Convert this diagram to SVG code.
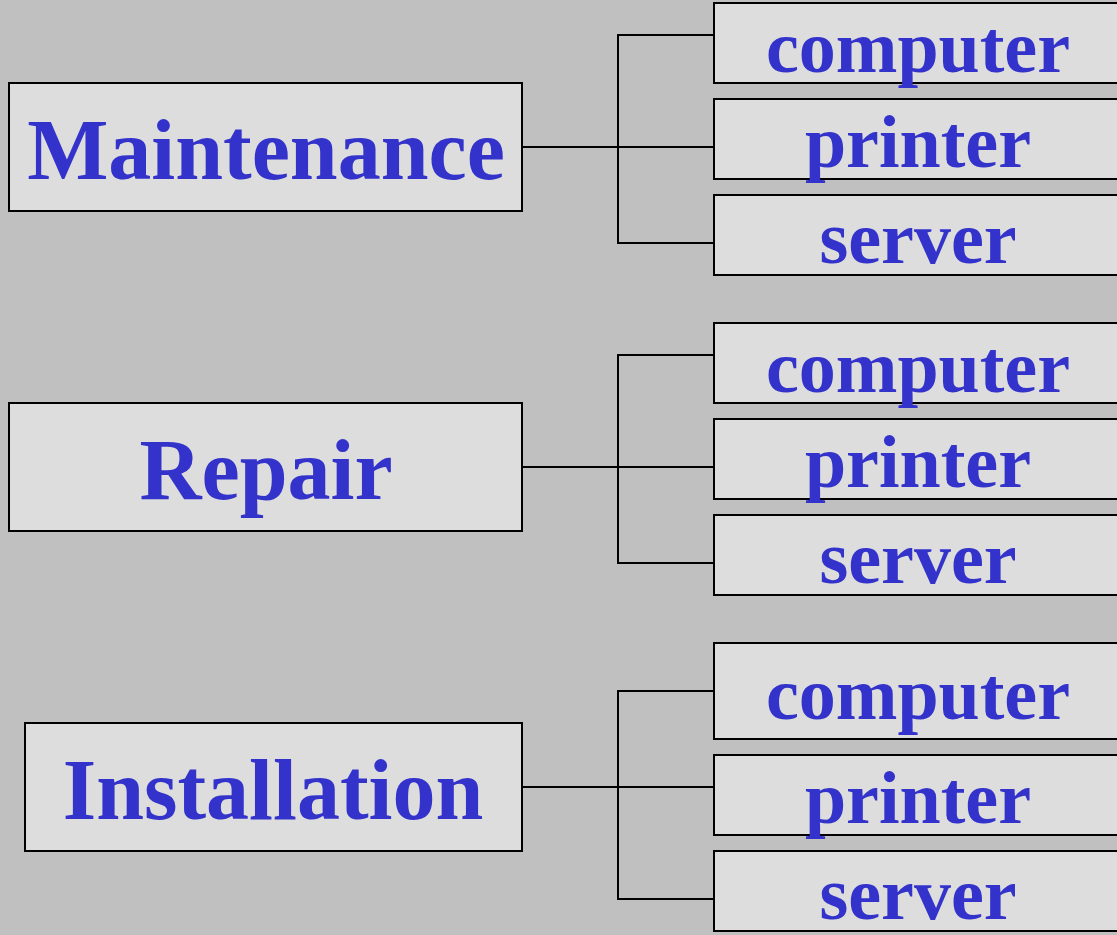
<svg xmlns="http://www.w3.org/2000/svg" width="1117" height="935" viewBox="0 0 1117 935">
<style>
.box{fill:#DDDDDD;stroke:#000;stroke-width:2}
.big{font-family:"Liberation Serif","Times New Roman",serif;font-weight:bold;font-size:86px;fill:#3333CC;text-anchor:middle}
.sm{font-family:"Liberation Serif","Times New Roman",serif;font-weight:bold;font-size:74px;fill:#3333CC;text-anchor:middle}
.con{fill:none;stroke:#000;stroke-width:2}
</style>
<rect width="1117" height="935" fill="#C0C0C0"/>
<g id="connectors">
<path class="con" d="M522,147H714M714,35H618V243H714"/>
<path class="con" d="M522,467H714M714,355H618V563H714"/>
<path class="con" d="M522,787H714M714,691H618V899H714"/>
</g>
<g id="maintenance"><rect class="box" x="9" y="83" width="513" height="128"/><text class="big" x="266" y="179">Maintenance</text></g>
<g id="m-computer"><rect class="box" x="714" y="3" width="410" height="80"/><text class="sm" x="918" y="72">computer</text></g>
<g id="m-printer"><rect class="box" x="714" y="99" width="410" height="80"/><text class="sm" x="918" y="167">printer</text></g>
<g id="m-server"><rect class="box" x="714" y="195" width="410" height="80"/><text class="sm" x="918" y="263">server</text></g>
<g id="repair"><rect class="box" x="9" y="403" width="513" height="128"/><text class="big" x="266" y="499">Repair</text></g>
<g id="r-computer"><rect class="box" x="714" y="323" width="410" height="80"/><text class="sm" x="918" y="392">computer</text></g>
<g id="r-printer"><rect class="box" x="714" y="419" width="410" height="80"/><text class="sm" x="918" y="487">printer</text></g>
<g id="r-server"><rect class="box" x="714" y="515" width="410" height="80"/><text class="sm" x="918" y="583">server</text></g>
<g id="installation"><rect class="box" x="25" y="723" width="497" height="128"/><text class="big" x="273" y="819">Installation</text></g>
<g id="i-computer"><rect class="box" x="714" y="643" width="410" height="96"/><text class="sm" x="918" y="719">computer</text></g>
<g id="i-printer"><rect class="box" x="714" y="755" width="410" height="80"/><text class="sm" x="918" y="823">printer</text></g>
<g id="i-server"><rect class="box" x="714" y="851" width="410" height="80"/><text class="sm" x="918" y="919">server</text></g>
</svg>
